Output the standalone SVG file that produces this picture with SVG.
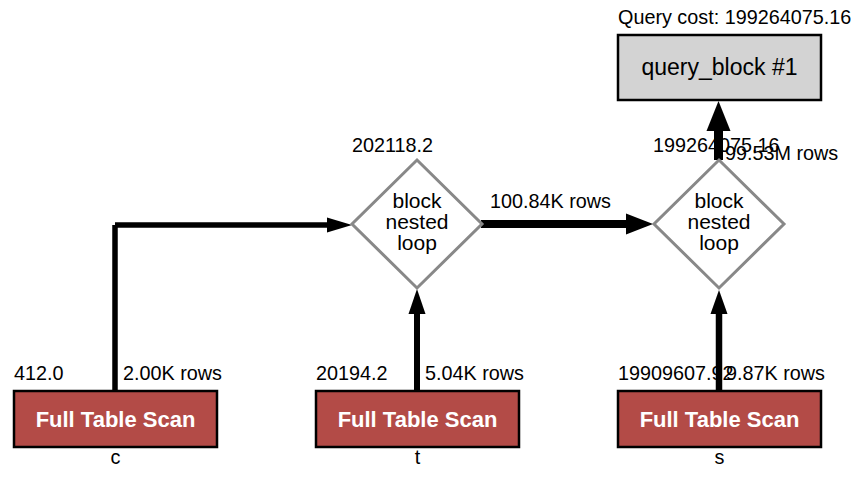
<svg xmlns="http://www.w3.org/2000/svg" width="866" height="480" viewBox="0 0 866 480">
<style>
text{font-family:"Liberation Sans",Arial,sans-serif;fill:#000}
.lbl{font-size:19.8px}
.ds{font-size:21px}
.fts{fill:#b34b47;stroke:#000;stroke-width:2.5}
.fttxt{font-size:22px;font-weight:bold;fill:#fff}
.dia{fill:#fff;stroke:#888;stroke-width:3}
.e{stroke:#000;fill:none;stroke-linecap:butt}
.ah{fill:#000}
</style>
<rect width="866" height="480" fill="#fff"/>
<g id="connectors">
  <line class="e" x1="115" y1="391" x2="115" y2="225" stroke-width="5.5"/>
  <line class="e" x1="115" y1="225" x2="327" y2="225" stroke-width="5.5"/>
  <polygon class="ah" points="327,217.5 352,225 327,232.5"/>
  <line class="e" x1="417" y1="391" x2="417" y2="314" stroke-width="6"/>
  <polygon class="ah" points="408.5,314 417,289 425.5,314"/>
  <line class="e" x1="481" y1="224" x2="627" y2="224" stroke-width="8"/>
  <polygon class="ah" points="626,213.5 653,224 626,234.5"/>
  <line class="e" x1="719" y1="391" x2="719" y2="314" stroke-width="6.5"/>
  <polygon class="ah" points="710.5,314 719,290 727.5,314"/>
  <line class="e" x1="718.5" y1="160" x2="718.5" y2="130" stroke-width="9"/>
  <polygon class="ah" points="706.5,131 718.5,101 730.5,131"/>
  <text class="lbl" x="14" y="380">412.0</text>
  <text class="lbl" x="123" y="380">2.00K rows</text>
  <text class="lbl" x="316" y="380">20194.2</text>
  <text class="lbl" x="425" y="380">5.04K rows</text>
  <text class="lbl" x="618" y="380">19909607.92</text>
  <text class="lbl" x="726" y="380">9.87K rows</text>
  <text class="lbl" x="490" y="208">100.84K rows</text>
  <text class="lbl" x="352" y="152">202118.2</text>
  <text class="lbl" x="653" y="152">199264075.16</text>
  <text class="lbl" x="725" y="160">99.53M rows</text>
</g>
<g id="query_block">
  <text class="lbl" x="618" y="24">Query cost: 199264075.16</text>
  <rect x="618" y="35" width="203" height="65" fill="#d3d3d3" stroke="#000" stroke-width="2.5"/>
  <text x="719.5" y="75" font-size="23px" text-anchor="middle">query_block #1</text>
</g>
<g id="bnl1">
  <polygon class="dia" points="417,160 482,224 417,288 352,224"/>
  <text class="ds" x="417" y="208" text-anchor="middle">block</text>
  <text class="ds" x="417" y="229" text-anchor="middle">nested</text>
  <text class="ds" x="417" y="250" text-anchor="middle">loop</text>
</g>
<g id="bnl2">
  <polygon class="dia" points="719,160 784,224 719,288 654,224"/>
  <text class="ds" x="719" y="208" text-anchor="middle">block</text>
  <text class="ds" x="719" y="229" text-anchor="middle">nested</text>
  <text class="ds" x="719" y="250" text-anchor="middle">loop</text>
</g>
<g id="scan_c">
  <rect class="fts" x="14" y="391" width="203" height="56"/>
  <text class="fttxt" x="115.5" y="427" text-anchor="middle">Full Table Scan</text>
  <text class="lbl" x="115.5" y="464" text-anchor="middle">c</text>
</g>
<g id="scan_t">
  <rect class="fts" x="316" y="391" width="203" height="56"/>
  <text class="fttxt" x="417.5" y="427" text-anchor="middle">Full Table Scan</text>
  <text class="lbl" x="417.5" y="464" text-anchor="middle">t</text>
</g>
<g id="scan_s">
  <rect class="fts" x="618" y="391" width="203" height="56"/>
  <text class="fttxt" x="719.5" y="427" text-anchor="middle">Full Table Scan</text>
  <text class="lbl" x="719.5" y="464" text-anchor="middle">s</text>
</g>
</svg>
